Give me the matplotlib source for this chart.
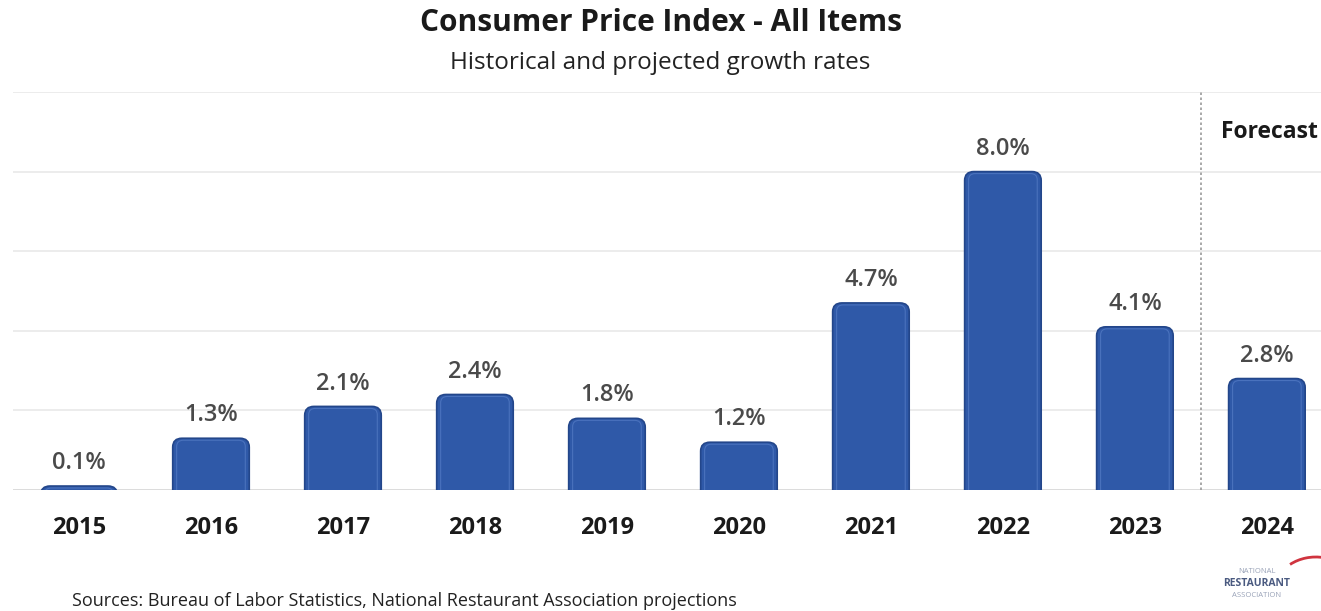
import numpy as np
import matplotlib.pyplot as plt
from matplotlib.patches import FancyBboxPatch, Arc

plt.rcParams['font.family'] = ['Open Sans', 'DejaVu Sans']

years = ['2015', '2016', '2017', '2018', '2019', '2020', '2021', '2022', '2023', '2024']
cpi = [0.1, 1.3, 2.1, 2.4, 1.8, 1.2, 4.7, 8.0, 4.1, 2.8]
value_labels = ['0.1%', '1.3%', '2.1%', '2.4%', '1.8%', '1.2%', '4.7%', '8.0%', '4.1%', '2.8%']
forecast_start = 8.5

bar_color = '#2f59a8'
edge_color = '#23468a'
grid_color = '#e9e9e9'

fig = plt.figure(figsize=(13.21, 6.11), dpi=100)
ax = fig.add_axes([13/1321, 121/611, 1 - 13/1321, 398/611])

x = np.arange(len(years))
bars = ax.bar(x, cpi, width=0.58, color='none', edgecolor='none')

# rounded tops: redraw each bar as a rounded box, bottom pushed below the axis
for b in bars:
    bx, bw, bh = b.get_x(), b.get_width(), b.get_height()
    p = FancyBboxPatch((bx, -1), bw, bh + 1,
                       boxstyle='round,pad=0,rounding_size=0.07',
                       mutation_aspect=3.2,
                       facecolor=bar_color, edgecolor=edge_color, lw=1.2,
                       zorder=3)
    ax.add_patch(p)
    # light highlight near the top
    ax.add_patch(FancyBboxPatch((bx + 0.03, -1), bw - 0.06, bh + 0.95,
                                boxstyle='round,pad=0,rounding_size=0.05',
                                mutation_aspect=3.2, facecolor='none',
                                edgecolor='#4a72bd', lw=0.8, zorder=3.5))

for xi, v, lab in zip(x, cpi, value_labels):
    ax.annotate(lab, (xi, v), xytext=(0, 16.5), textcoords='offset points',
                ha='center', va='center', fontsize=17, fontweight='semibold',
                color='#4a4a4a')

ax.set_xlim(-0.5, 9.41)
ax.set_ylim(0, 10)
ax.set_yticks([0, 2, 4, 6, 8, 10])
ax.yaxis.grid(True, color=grid_color, lw=1.2)
ax.set_axisbelow(True)
ax.tick_params(axis='y', left=False, labelleft=False)
ax.set_xticks(x)
ax.set_xticklabels(years, fontsize=17, fontweight='bold', color='#1a1a1a')
ax.tick_params(axis='x', length=0, pad=19)
for s in ax.spines.values():
    s.set_visible(False)
ax.axhline(0, color='#d9d9d9', lw=1.2, zorder=2)

ax.axvline(forecast_start, ymin=0, ymax=1, color='#9a9a9a', lw=1.2, ls=(0, (1.5, 1.5)))
ax.text(forecast_start + 0.15, 9.0, 'Forecast', fontsize=16.5, fontweight='bold',
        color='#1a1a1a', ha='left', va='center')

fig.text(0.5, 0.962, 'Consumer Price Index - All Items', ha='center', va='center',
         fontsize=21.5, fontweight='bold', color='#1a1a1a')
fig.text(0.5, 0.897, 'Historical and projected growth rates', ha='center', va='center',
         fontsize=17.5, color='#222222')
fig.text(72/1321, 0.016, 'Sources: Bureau of Labor Statistics, National Restaurant Association projections',
         ha='left', va='center', fontsize=13, color='#222222')

# logo
fig.text(1257/1321, 0.064, 'NATIONAL', ha='center', va='center', fontsize=5.5, color='#9aa3b8')
fig.text(1257/1321, 0.045, 'RESTAURANT', ha='center', va='center', fontsize=7.5,
         fontweight='bold', color='#4a5a80')
fig.text(1257/1321, 0.026, 'ASSOCIATION', ha='center', va='center', fontsize=5.5, color='#9aa3b8')
lax = fig.add_axes([1270/1321, 0, 51/1321, 60/611])
lax.set_xlim(0, 1)
lax.set_ylim(0, 1)
lax.axis('off')
lax.add_patch(Arc((0.9, 0.35), 1.6, 1.1, theta1=20, theta2=140, color='#d0343f', lw=2))

fig.savefig('out.png', dpi=100, facecolor='white')
